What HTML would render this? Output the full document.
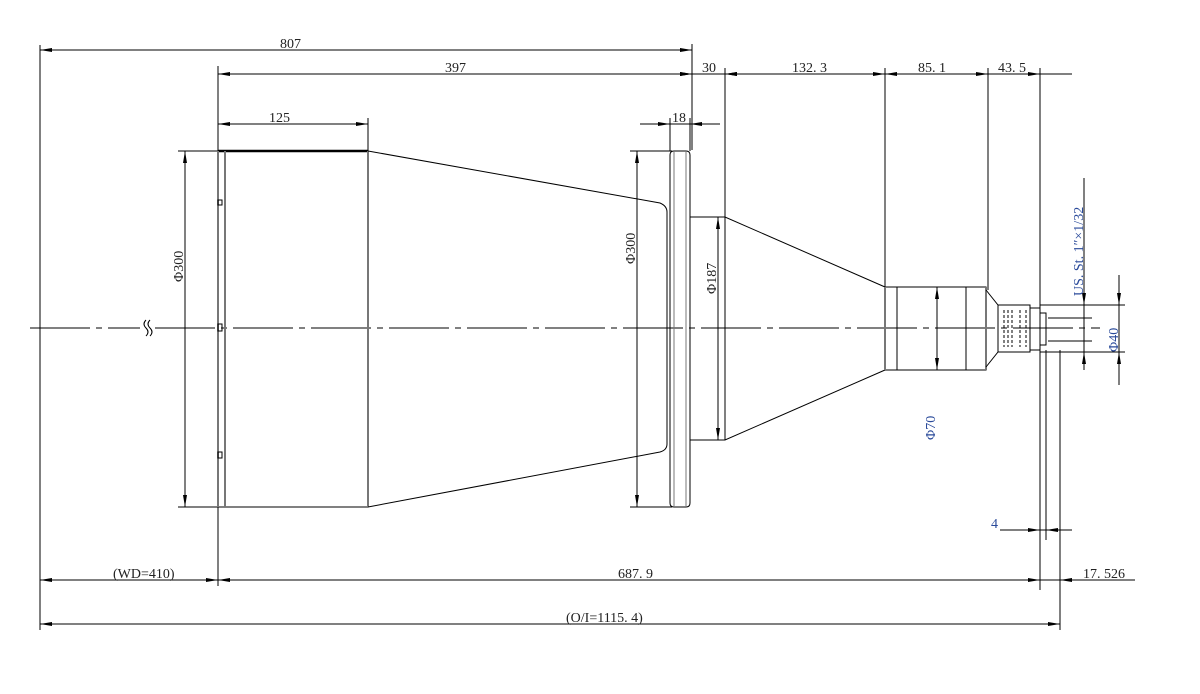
<!DOCTYPE html>
<html><head><meta charset="utf-8"><style>
html,body{margin:0;padding:0;background:#fff;}
svg{display:block}
text{font-family:"Liberation Serif","Noto Serif CJK SC",serif;font-size:14px;fill:#222}
.b{fill:#2a4a9a}
</style></head><body>
<svg width="1200" height="694" viewBox="0 0 1200 694" xmlns="http://www.w3.org/2000/svg">
<defs>
<marker id="a" viewBox="0 0 12 4" refX="12" refY="2" markerWidth="12" markerHeight="4" orient="auto-start-reverse" markerUnits="userSpaceOnUse"><path d="M0,0 L12,2 L0,4 z" fill="#000"/></marker>
</defs>
<g stroke="#000" stroke-width="1" fill="none">
<path d="M30,328 H140 M155,328 H1100" stroke-dasharray="60,6,6,6"/>
<path d="M146,320 q-4,4 0,8 q4,4 0,8 M150,320 q-4,4 0,8 q4,4 0,8"/>
<path d="M40,45 V630 M218,66 V586 M368,118 V151 M692,44 V150 M725,68 V217 M885,68 V287 M988,68 V290 M1040,68 V590 M1046,350 V540 M1060,350 V630 M670,118 V151 M690,118 V151"/>
<path d="M178,151 H220 M178,507 H220 M630,151 H672 M630,507 H672 M712,217 H725 M712,440 H725 M930,287 H940 M1040,305 H1125 M1040,352 H1125 M1048,318 H1092 M1048,341 H1092 M1084,178 V370"/>
<path d="M218,151 H368 V507 H218 Z" />
<path d="M218,151 H368" stroke-width="2.5"/>
<path d="M218,151 V507 M225,151 V507 M368,151 V507" stroke="#777" stroke-width="2"/>
<rect x="218" y="200" width="4" height="5"/><rect x="218" y="324" width="4" height="7"/><rect x="218" y="452" width="4" height="6"/>
<path d="M368,151 L660,203 Q667,206 667,212 V444 Q667,450 660,452 L368,507"/>
<path d="M670,155 Q670,151 674,151 H686 Q690,151 690,155 V503 Q690,507 686,507 H674 Q670,507 670,503 Z"/>
<path d="M674,151 V507 M686,151 V507" stroke="#777"/>
<path d="M690,217 H725 L885,287 M690,440 H725 L885,370 M725,217 V440"/>
<path d="M885,287 H986 V370 H885 Z M897,287 V370 M966,287 V370"/>
<path d="M885,287 V370 M986,287 V370" stroke="#777" stroke-width="2"/>
<path d="M986,290 L998,305 H1030 V352 H998 L986,367 M998,305 V352"/>
<path d="M1030,308 H1040 V350 H1030 M1040,313 H1046 V345 H1040"/>
<path d="M1004,310 V347 M1008,310 V347 M1012,310 V347 M1020,310 V347 M1026,310 V347" stroke-dasharray="3,2"/>
<g marker-start="url(#a)" marker-end="url(#a)">
<path d="M40,50 H692"/><path d="M218,74 H692"/><path d="M725,74 H885"/><path d="M885,74 H988"/>
<path d="M218,124 H368"/>
<path d="M185,151 V507"/><path d="M637,151 V507"/><path d="M718,217 V440"/><path d="M937,287 V370"/>
<path d="M40,580 H218"/><path d="M218,580 H1040"/><path d="M40,624 H1060"/>
</g>
<path d="M692,74 H725 M988,74 H1072 M640,124 H720 M1000,530 H1072 M1040,580 H1135 M1119,275 V385 M1084,178 V370"/>
<g marker-end="url(#a)">
<path d="M676,74 H692"/><path d="M741,74 H725"/><path d="M1024,74 H1040"/>
<path d="M654,124 H670"/><path d="M706,124 H690"/>
<path d="M1024,530 H1040"/><path d="M1062,530 H1046"/>
<path d="M1076,580 H1060"/>
<path d="M1119,289 V305"/><path d="M1119,368 V352"/>
<path d="M1084,289 V305"/><path d="M1084,368 V352"/>
</g>
</g>
<text x="280" y="48">807</text>
<text x="445" y="72">397</text>
<text x="702" y="72">30</text>
<text x="792" y="72">132. 3</text>
<text x="918" y="72">85. 1</text>
<text x="998" y="72">43. 5</text>
<text x="269" y="122">125</text>
<text x="672" y="122">18</text>
<text transform="translate(183,282) rotate(-90)">Φ300</text>
<text transform="translate(635,264) rotate(-90)">Φ300</text>
<text transform="translate(716,294) rotate(-90)">Φ187</text>
<text class="b" transform="translate(935,440) rotate(-90)">Φ70</text>
<text class="b" transform="translate(1118,352) rotate(-90)">Φ40</text>
<text class="b" transform="translate(1083,296) rotate(-90)">US. St. 1″×1/32</text>
<text class="b" x="991" y="528">4</text>
<text x="113" y="578">(WD=410)</text>
<text x="618" y="578">687. 9</text>
<text x="1083" y="578">17. 526</text>
<text x="566" y="622">(O/I=1115. 4)</text>
</svg>
</body></html>
